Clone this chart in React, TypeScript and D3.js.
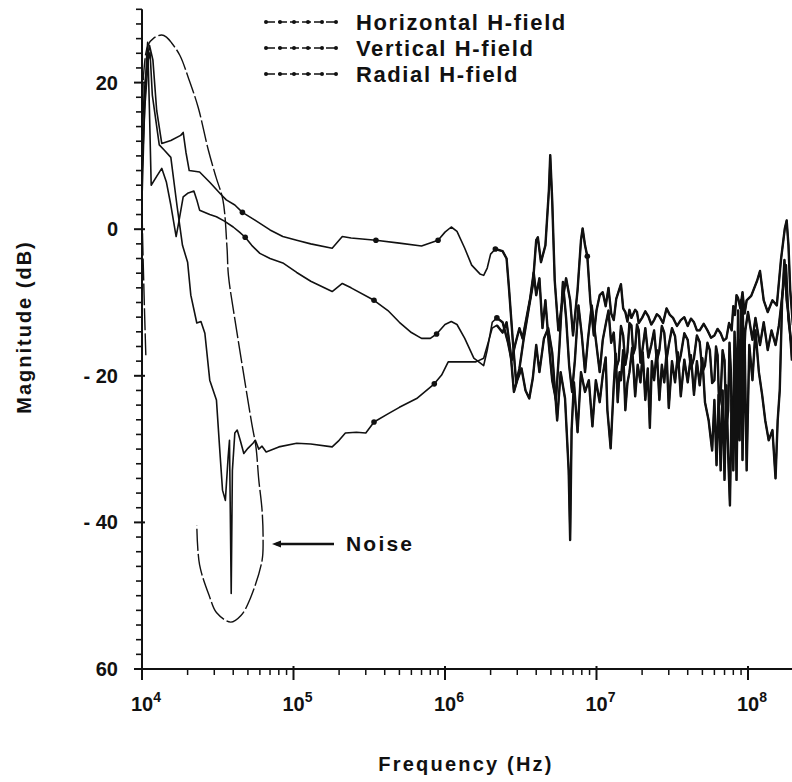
import React from 'react';
import * as d3 from 'd3';

const WIDTH = 792;
const HEIGHT = 782;

// ---- Data ----
const horizontalFreq = [1.0e4, 1.05e4, 1.12e4, 1.18e4, 1.25e4, 1.35e4, 1.55e4, 1.8e4, 1.87e4, 1.95e4, 2.05e4, 2.4e4, 2.8e4, 3.3e4, 3.6e4, 4.1e4, 4.6e4, 5.6e4, 7.0e4, 8.5e4, 1.05e5, 1.3e5, 1.8e5, 2.1e5, 2.4e5, 3.5e5, 5.0e5, 7.0e5, 9.0e5, 1.0e6, 1.1e6, 1.2e6, 1.35e6, 1.5e6, 1.7e6, 1.8e6, 1.9e6, 2.0e6, 2.15e6, 2.4e6, 2.55e6, 2.65e6, 2.8e6, 2.95e6, 3.1e6, 3.3e6, 3.6e6, 3.8e6, 4.0e6, 4.1e6, 4.3e6, 4.6e6, 4.85e6, 4.95e6, 5.1e6, 5.3e6, 5.6e6, 5.9e6, 6.3e6, 6.7e6, 7.0e6, 7.5e6, 7.9e6, 8.1e6, 8.4e6, 8.7e6, 9.1e6, 9.6e6,
  1.0e7, 1.05e7, 1.1e7, 1.15e7, 1.2e7, 1.25e7, 1.3e7, 1.35e7, 1.45e7, 1.5e7, 1.55e7, 1.6e7, 1.65e7, 1.7e7, 1.8e7, 1.85e7, 1.9e7, 2.0e7, 2.1e7, 2.2e7, 2.3e7, 2.4e7, 2.5e7, 2.6e7, 2.75e7, 2.9e7, 3.05e7, 3.2e7, 3.4e7, 3.6e7, 3.8e7, 4.0e7, 4.2e7, 4.4e7, 4.6e7, 4.8e7, 5.1e7, 5.4e7, 5.7e7, 6.0e7, 6.3e7, 6.6e7, 6.9e7, 7.2e7, 7.5e7, 7.8e7, 8.0e7, 8.2e7, 8.4e7, 8.6e7, 8.9e7, 9.2e7, 9.5e7, 9.8e7, 1.05e8, 1.15e8, 1.2e8, 1.27e8, 1.35e8, 1.45e8, 1.55e8, 1.65e8, 1.75e8, 1.8e8, 1.85e8, 1.9e8, 1.98e8];
const horizontalDb = [13.5, 20.3, 25.1, 23.1, 16.2, 11.7, 12.1, 12.8, 13.2, 10.5, 8.0, 7.8, 6.4, 4.8, 4.0, 3.3, 2.3, 1.2, -0.1, -1.0, -1.5, -2.0, -2.6, -1.0, -1.2, -1.5, -1.9, -2.3, -1.5, -0.4, 0.3, -0.3, -2.6, -4.9, -6.1, -6.3, -5.3, -3.4, -2.7, -3.0, -4.0, -8.3, -15.1, -20.9, -19.0, -15.1, -10.4, -7.6, -1.5, -1.1, -4.5, -2.2, 5.3, 10.1, 4.0, -7.0, -13.8, -10.4, -6.7, -9.7, -14.5, -8.3, -1.5, 0.1, -2.2, -3.7, -9.7, -14.5,
  -11.1, -9.0, -8.6, -10.5, -8.0, -11.5, -12.4, -9.5, -7.5, -10.8, -11.3, -12.6, -11.0, -12.1, -11.0, -11.3, -12.8, -12.1, -11.2, -11.9, -13.0, -12.4, -11.6, -11.9, -12.8, -10.8, -11.7, -12.1, -13.2, -12.4, -12.0, -13.2, -12.2, -12.7, -13.8, -13.8, -12.9, -13.8, -14.8, -14.5, -13.6, -14.2, -15.2, -14.9, -12.8, -13.8, -10.5, -11.7, -9.0, -9.4, -10.8, -8.6, -11.5, -9.7, -9.1, -7.0, -5.7, -9.7, -11.3, -9.7, -10.4, -4.2, 0.1, 1.2, -2.2, -8.3, -13.1];
const horizontalMarkers = [4.6e4, 3.5e5, 9.0e5, 2.15e6, 8.7e6];

const verticalFreq = [1.0e4, 1.03e4, 1.07e4, 1.09e4, 1.12e4, 1.15e4, 1.25e4, 1.35e4, 1.45e4, 1.55e4, 1.68e4, 1.75e4, 1.87e4, 2.0e4, 2.2e4, 2.3e4, 2.4e4, 2.8e4, 3.1e4, 3.5e4, 4.0e4, 4.4e4, 4.8e4, 5.3e4, 6.0e4, 7.0e4, 8.5e4, 1.05e5, 1.3e5, 1.8e5, 2.1e5, 2.4e5, 3.4e5, 4.2e5, 5.0e5, 6.0e5, 7.0e5, 8.0e5, 8.8e5, 1.0e6, 1.1e6, 1.2e6, 1.35e6, 1.55e6, 1.8e6, 1.9e6, 2.05e6, 2.2e6, 2.4e6, 2.6e6, 2.75e6, 2.9e6, 3.1e6, 3.25e6, 3.45e6, 3.65e6, 3.85e6, 4.0e6, 4.2e6, 4.4e6, 4.6e6, 4.85e6, 5.1e6, 5.4e6, 5.7e6, 6.0e6, 6.3e6, 6.6e6, 6.9e6, 7.2e6, 7.6e6, 8.0e6, 8.4e6, 8.8e6, 9.3e6, 9.9e6,
  1.05e7, 1.1e7, 1.15e7, 1.2e7, 1.25e7, 1.3e7, 1.35e7, 1.4e7, 1.45e7, 1.5e7, 1.55e7, 1.6e7, 1.65e7, 1.7e7, 1.75e7, 1.8e7, 1.85e7, 1.9e7, 1.95e7, 2.0e7, 2.1e7, 2.2e7, 2.3e7, 2.4e7, 2.5e7, 2.6e7, 2.7e7, 2.8e7, 2.9e7, 3.0e7, 3.15e7, 3.3e7, 3.45e7, 3.6e7, 3.8e7, 4.0e7, 4.2e7, 4.4e7, 4.6e7, 4.8e7, 5.0e7, 5.2e7, 5.4e7, 5.6e7, 5.8e7, 6.0e7, 6.15e7, 6.3e7, 6.45e7, 6.6e7, 6.8e7, 7.0e7, 7.2e7, 7.4e7, 7.55e7, 7.7e7, 7.85e7, 8.0e7, 8.15e7, 8.3e7, 8.45e7, 8.6e7, 8.75e7, 8.9e7, 9.05e7, 9.2e7, 9.4e7, 9.6e7, 1.0e8, 1.07e8, 1.12e8, 1.2e8, 1.27e8, 1.35e8, 1.43e8, 1.52e8, 1.6e8, 1.7e8, 1.78e8, 1.85e8, 1.92e8, 1.98e8];
const verticalDb = [4.0, 13.5, 23.1, 25.5, 16.2, 6.0, 7.2, 8.3, 6.4, 3.3, -1.0, 1.0, 4.4, 4.9, 5.2, 4.0, 2.6, 2.0, 1.7, 1.1, 0.3, -0.4, -1.1, -2.2, -3.3, -4.0, -4.6, -5.9, -7.1, -8.5, -7.4, -8.0, -9.7, -11.1, -12.7, -14.1, -14.9, -14.9, -14.3, -13.0, -12.6, -13.0, -14.9, -17.6, -18.6, -16.5, -12.7, -12.1, -12.7, -15.4, -17.9, -15.8, -13.5, -14.9, -12.1, -9.4, -5.9, -9.0, -6.7, -13.5, -9.7, -15.8, -20.6, -23.3, -15.8, -7.2, -12.1, -18.6, -22.2, -17.9, -10.4, -14.5, -19.5, -14.9, -10.4, -15.1,
  -19.5, -15.1, -13.0, -11.1, -15.5, -14.1, -19.0, -17.9, -13.2, -14.5, -18.5, -16.8, -12.8, -13.1, -17.0, -16.2, -13.0, -13.8, -18.2, -16.8, -13.5, -17.5, -15.8, -13.8, -18.0, -16.5, -13.2, -14.1, -17.8, -15.8, -13.5, -14.6, -18.8, -17.2, -14.2, -15.1, -19.0, -17.6, -14.5, -15.4, -19.5, -18.6, -15.5, -16.5, -21.0, -20.6, -16.0, -17.2, -24.0, -22.6, -16.5, -17.9, -27.0, -24.7, -15.5, -19.2, -29.0, -26.7, -14.0, -17.9, -25.0, -11.1, -20.0, -15.1, -24.0, -9.7, -18.0, -13.8, -11.3, -15.1, -12.1, -15.8, -12.7, -16.5, -13.8, -15.8, -13.1, -8.3, -4.9, -12.4, -15.1, -16.2];
const verticalMarkers = [4.8e4, 3.4e5, 8.8e5, 2.2e6];

const radialFreq = [1.0e4, 1.04e4, 1.1e4, 1.13e4, 1.17e4, 1.3e4, 1.4e4, 1.55e4, 1.7e4, 1.85e4, 2.0e4, 2.1e4, 2.3e4, 2.45e4, 2.6e4, 2.8e4, 3.1e4, 3.25e4, 3.4e4, 3.55e4, 3.7e4, 3.78e4, 3.88e4, 3.95e4, 4.1e4, 4.25e4, 4.45e4, 4.7e4, 5.0e4, 5.4e4, 5.6e4, 5.9e4, 6.2e4, 6.6e4, 8.0e4, 1.05e5, 1.3e5, 1.8e5, 2.0e5, 2.2e5, 2.6e5, 3.0e5, 3.4e5, 4.2e5, 5.0e5, 6.5e5, 8.5e5, 9.5e5, 1.05e6, 1.3e6, 1.6e6, 1.8e6, 1.95e6, 2.05e6, 2.2e6, 2.4e6, 2.55e6, 2.7e6, 2.85e6, 3.0e6, 3.2e6, 3.4e6, 3.6e6, 3.8e6, 4.0e6, 4.2e6, 4.5e6, 4.8e6, 5.1e6, 5.5e6, 5.8e6, 6.2e6, 6.55e6, 6.7e6, 6.85e6, 7.1e6, 7.5e6, 7.9e6, 8.4e6, 8.9e6, 9.4e6, 9.9e6,
  1.05e7, 1.1e7, 1.15e7, 1.18e7, 1.24e7, 1.3e7, 1.34e7, 1.38e7, 1.42e7, 1.45e7, 1.5e7, 1.55e7, 1.6e7, 1.65e7, 1.72e7, 1.8e7, 1.87e7, 1.95e7, 2.02e7, 2.1e7, 2.18e7, 2.25e7, 2.32e7, 2.4e7, 2.5e7, 2.6e7, 2.7e7, 2.8e7, 2.9e7, 3.0e7, 3.15e7, 3.3e7, 3.45e7, 3.6e7, 3.8e7, 4.0e7, 4.2e7, 4.4e7, 4.6e7, 4.8e7, 5.0e7, 5.2e7, 5.5e7, 5.8e7, 6.0e7, 6.2e7, 6.4e7, 6.6e7, 6.8e7, 7.0e7, 7.2e7, 7.4e7, 7.6e7, 7.8e7, 8.0e7, 8.2e7, 8.4e7, 8.6e7, 8.8e7, 9.0e7, 9.2e7, 9.5e7, 9.8e7, 1.02e8, 1.07e8, 1.12e8, 1.18e8, 1.24e8, 1.3e8, 1.37e8, 1.45e8, 1.52e8, 1.57e8, 1.62e8, 1.68e8, 1.74e8, 1.8e8, 1.87e8, 1.95e8];
const radialDb = [7.4, 16.2, 23.1, 24.1, 18.3, 11.5, 10.8, 9.8, 3.3, -2.2, -4.5, -9.0, -12.8, -12.6, -14.2, -20.6, -23.3, -29.7, -35.6, -37.0, -31.2, -28.8, -49.7, -32.9, -27.8, -27.4, -28.8, -30.6, -29.9, -29.2, -28.8, -30.0, -29.6, -30.4, -29.7, -29.2, -29.3, -29.7, -28.8, -27.8, -27.7, -27.8, -26.3, -25.2, -24.3, -23.1, -21.1, -19.9, -18.1, -18.1, -18.1, -17.6, -15.1, -13.5, -13.1, -14.1, -12.7, -16.5, -22.2, -20.6, -19.0, -22.0, -23.1, -20.3, -15.8, -19.5, -14.9, -13.5, -16.8, -26.1, -19.5, -23.1, -32.9, -42.4, -27.4, -20.9, -27.7, -19.5, -22.2, -20.6, -26.9, -20.6,
  -23.6, -19.9, -17.5, -24.7, -29.9, -21.3, -17.0, -23.6, -19.5, -20.6, -16.5, -24.7, -21.0, -19.5, -16.2, -22.8, -18.5, -20.9, -16.8, -23.3, -19.0, -27.1, -18.0, -20.6, -16.5, -23.3, -18.5, -20.9, -16.8, -24.4, -18.0, -20.9, -16.8, -22.8, -17.8, -20.9, -17.2, -22.6, -18.0, -21.3, -17.6, -23.6, -26.1, -30.2, -23.3, -32.2, -22.6, -32.9, -22.0, -34.2, -21.3, -30.8, -37.7, -23.3, -32.9, -18.6, -34.2, -19.2, -28.8, -9.7, -31.5, -15.1, -32.9, -15.8, -20.6, -13.8, -19.5, -22.6, -26.1, -28.8, -27.4, -34.0, -26.1, -22.0, -9.7, -4.2, -9.7, -12.4, -17.9];
const radialMarkers = [3.4e5, 8.5e5];

const noiseFreq = [1.06e4, 1.03e4, 1.0e4, 1.01e4, 1.03e4, 1.095e4, 1.2e4, 1.35e4, 1.45e4, 1.57e4, 1.78e4, 2.02e4, 2.35e4, 2.74e4, 3.08e4, 3.42e4, 3.64e4, 3.72e4, 4.11e4, 4.64e4, 5.3e4, 5.65e4, 5.9e4, 6.2e4, 6.3e4, 6.2e4, 5.2e4, 4.5e4, 3.85e4, 3.1e4, 2.8e4, 2.4e4, 2.3e4];
const noiseDb = [-17.2, -8.3, 4.0, 14.9, 21.7, 25.1, 26.1, 26.5, 26.2, 25.4, 23.7, 20.7, 16.6, 10.8, 7.1, 4.0, -2.5, -6.3, -12.4, -19.2, -26.5, -29.7, -34.2, -38.3, -42.4, -45.2, -50.3, -52.7, -53.6, -52.3, -50.2, -45.8, -40.4];

const legendLabels = ['Horizontal H-field', 'Vertical H-field', 'Radial H-field'];
const xMajorExponents = [4, 5, 6, 7, 8];
const yMajorValues = [20, 0, -20, -40, -60];
const yMajorLabels = ['20', '0', '- 20', '- 40', '60'];
const xAxisTitle = 'Frequency (Hz)';
const yAxisTitle = 'Magnitude (dB)';
const noiseLabel = 'Noise';

const FONT = '"Liberation Sans", Arial, Helvetica, sans-serif';
const INK = '#111';

export default function App() {
  const x = d3.scaleLog().domain([1e4, 2e8]).range([142, 793.6]);
  const y = d3.scaleLinear().domain([-60, 30]).range([669, 9.3]);
  const line = d3.line<number[]>().x(d => x(d[0])).y(d => y(d[1]));
  const smoothLine = d3
    .line<number[]>()
    .x(d => x(d[0]))
    .y(d => y(d[1]))
    .curve(d3.curveCatmullRom.alpha(0.5));

  const series = [
    { name: legendLabels[0], data: d3.zip(horizontalFreq, horizontalDb), markers: horizontalMarkers },
    { name: legendLabels[1], data: d3.zip(verticalFreq, verticalDb), markers: verticalMarkers },
    { name: legendLabels[2], data: d3.zip(radialFreq, radialDb), markers: radialMarkers },
  ];
  const noiseData = d3.zip(noiseFreq, noiseDb);

  const [xMin, xMax] = x.domain();
  const xMinor: number[] = [];
  xMajorExponents.forEach(e => {
    for (let m = 2; m <= 9; m++) {
      const v = m * Math.pow(10, e);
      if (v <= xMax) xMinor.push(v);
    }
  });
  const yMinor = d3.range(-60, 31, 2).filter(v => !yMajorValues.includes(v));
  const yAxisX = x(xMin);
  const xAxisY = y(-60);

  return (
    <svg
      width={WIDTH}
      height={HEIGHT}
      style={{ position: 'absolute', left: 0, top: 0, background: '#fff' }}
      fontFamily={FONT}
    >
      <rect x={0} y={0} width={WIDTH} height={HEIGHT} fill="#fff" />

      {/* Y axis */}
      <line x1={yAxisX} x2={yAxisX} y1={y(30)} y2={xAxisY} stroke={INK} strokeWidth={2} />
      {yMinor.map(v => (
        <line key={'ym' + v} x1={yAxisX - 6} x2={yAxisX} y1={y(v)} y2={y(v)} stroke={INK} strokeWidth={1.6} />
      ))}
      {yMajorValues.map((v, i) => (
        <g key={'yM' + v}>
          <line x1={yAxisX - 8} x2={yAxisX + 3} y1={y(v)} y2={y(v)} stroke={INK} strokeWidth={2} />
          <text x={118} y={y(v) + 7} textAnchor="end" fontSize={20} fontWeight="bold" fill={INK}>
            {yMajorLabels[i]}
          </text>
        </g>
      ))}

      {/* X axis */}
      <line x1={yAxisX} x2={WIDTH} y1={xAxisY} y2={xAxisY} stroke={INK} strokeWidth={2} />
      {xMinor.map(v => (
        <line key={'xm' + v} x1={x(v)} x2={x(v)} y1={xAxisY} y2={xAxisY + 6} stroke={INK} strokeWidth={1.5} />
      ))}
      {xMajorExponents.map(e => {
        const xv = x(Math.pow(10, e));
        return (
          <g key={'xM' + e}>
            <line x1={xv} x2={xv} y1={xAxisY - 3} y2={xAxisY + 11} stroke={INK} strokeWidth={2} />
            <text x={xv - 11} y={711} fontSize={20} fontWeight="bold" fill={INK}>
              10
              <tspan dy={-9} fontSize={14}>
                {e}
              </tspan>
            </text>
          </g>
        );
      })}

      {/* Axis titles */}
      <text x={466} y={771} textAnchor="middle" fontSize={20} fontWeight="bold" letterSpacing={2.2} fill={INK}>
        {xAxisTitle}
      </text>
      <text
        transform={`translate(31, 327) rotate(-90)`}
        textAnchor="middle"
        fontSize={20}
        fontWeight="bold"
        letterSpacing={2}
        fill={INK}
      >
        {yAxisTitle}
      </text>

      {/* Noise curve */}
      <path d={smoothLine(noiseData) || ''} fill="none" stroke={INK} strokeWidth={1.4} strokeDasharray="22 3" />

      {/* Measured series */}
      {series.map(s => {
        const idx = s.data.findIndex(d => d[0] >= 2.4e6);
        const hf = s.data.slice(Math.max(0, idx - 1));
        return (
          <g key={s.name}>
            <path d={line(s.data) || ''} fill="none" stroke={INK} strokeWidth={1.6} strokeLinejoin="round" />
            <path d={line(hf) || ''} fill="none" stroke={INK} strokeWidth={2.4} strokeLinejoin="round" />
            {s.markers.map(m => {
              const pt = s.data.find(d => d[0] === m);
              if (!pt) return null;
              return <circle key={m} cx={x(pt[0])} cy={y(pt[1])} r={2.8} fill={INK} />;
            })}
          </g>
        );
      })}

      {/* Noise annotation */}
      <line x1={276} x2={334} y1={544} y2={544} stroke={INK} strokeWidth={2.4} />
      <path d="M272,544 L281,540.5 L281,547.5 Z" fill={INK} />
      <text x={346} y={551} fontSize={21} fontWeight="bold" letterSpacing={2.2} fill={INK}>
        {noiseLabel}
      </text>

      {/* Legend */}
      {legendLabels.map((label, i) => {
        const ly = 22 + i * 26;
        const dots = d3.range(0, 6).map(k => 266 + k * 14);
        return (
          <g key={label}>
            <line x1={266} x2={336} y1={ly} y2={ly} stroke={INK} strokeWidth={1.6} strokeDasharray="9 3" />
            {dots.map(dx => (
              <circle key={dx} cx={dx} cy={ly} r={2} fill={INK} />
            ))}
            <text x={356} y={ly + 8} fontSize={22} fontWeight="bold" letterSpacing={1.6} fill={INK}>
              {label}
            </text>
          </g>
        );
      })}
    </svg>
  );
}
